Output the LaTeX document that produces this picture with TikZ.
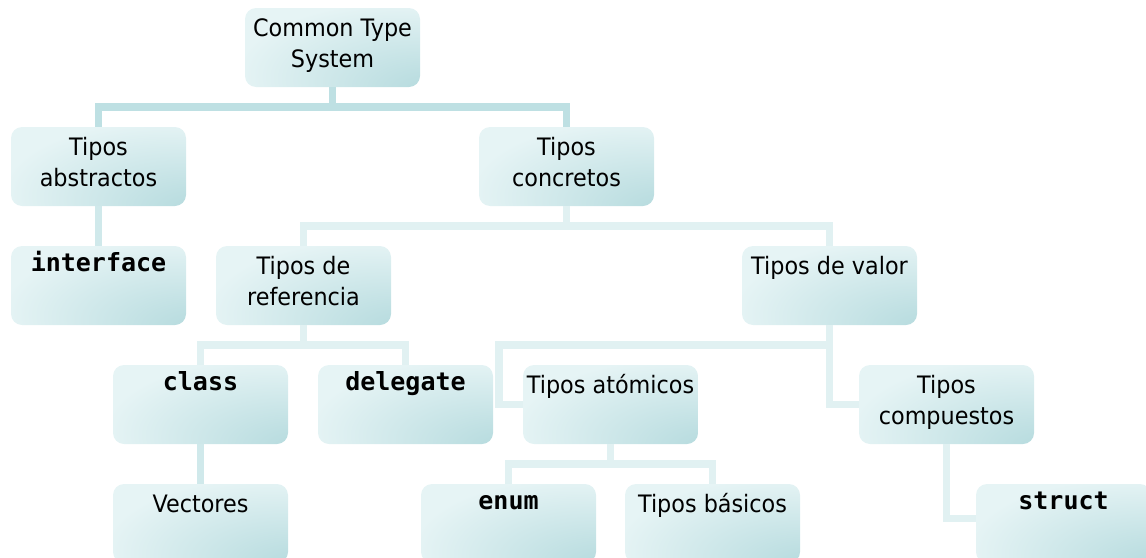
\documentclass[tikz,border=0pt]{standalone}
\usepackage{fontspec}
\setmainfont{DejaVu Sans}[FakeStretch=0.93]
\setmonofont{DejaVu Sans Mono}
\usetikzlibrary{positioning}

\definecolor{boxlight}{HTML}{E6F4F5}
\definecolor{boxdark}{HTML}{BADDE0}
\definecolor{linkdark}{HTML}{BEE0E3}
\definecolor{linkmid}{HTML}{D0E9EB}
\definecolor{linklight}{HTML}{E1F1F2}

% darker glow towards the bottom right corner of a box
\pgfdeclareradialshading{boxglow}{\pgfpoint{32bp}{-30bp}}{%
	color(0bp)=(boxdark); color(8bp)=(boxdark); color(45bp)=(boxlight); color(100bp)=(boxlight)}

% text sits at the top of each box
\newcommand{\boxtext}[1]{\parbox[c][79pt][t]{175pt}{\centering\fontsize{24}{31}\selectfont\rule{0pt}{28pt}#1}}
\newcommand{\boxcode}[1]{\parbox[c][79pt][t]{175pt}{\centering\fontsize{25}{31}\selectfont\ttfamily\bfseries\rule{0pt}{25pt}#1}}

\begin{document}
\begin{tikzpicture}[node distance = 119pt]
	\tikzset{BoxStyle/.style = {
			shape=rectangle, rounded corners=11pt,
			shade, shading=boxglow,
			inner sep=0pt, minimum width=175pt, minimum height=79pt
	}}
	\tikzset{RootLink/.style = {draw=linkdark, line width=7.5pt},
		MidLink/.style = {draw=linkmid, line width=7.5pt},
		LightLink/.style = {draw=linklight, line width=7.5pt},
		TreeLink/.style = {to path={(\tikztostart) -- ++(0,-20pt) -| (\tikztotarget)}},
		SideLink/.style = {to path={(\tikztostart) -- ++(0,-20pt) -| ([xshift=-24pt]\tikztotarget) -- (\tikztotarget)}},
		DownLink/.style = {to path={(\tikztostart) |- (\tikztotarget)}}
	}
	\useasboundingbox (0,0) rectangle (1146pt,-557pt);

	\node[BoxStyle] (cts) at (332.5pt,-47.5pt) {\boxtext{Common Type\\System}};
	\node[BoxStyle, below of=cts, xshift=-234pt] (abstractos) {\boxtext{Tipos\\abstractos}};
	\node[BoxStyle, below of=cts, xshift=234pt] (concretos) {\boxtext{Tipos\\concretos}};
	\node[BoxStyle, below of=abstractos] (interface) {\boxcode{interface}};
	\node[BoxStyle, below of=concretos, xshift=-263pt] (referencia) {\boxtext{Tipos de\\referencia}};
	\node[BoxStyle, below of=concretos, xshift=263pt] (valor) {\boxtext{Tipos de valor}};
	\node[BoxStyle, below of=referencia, xshift=-103pt] (class) {\boxcode{class}};
	\node[BoxStyle, below of=referencia, xshift=102pt] (delegate) {\boxcode{delegate}};
	\node[BoxStyle, below of=valor, xshift=-219pt] (atomicos) {\boxtext{Tipos at\'omicos}};
	\node[BoxStyle, below of=valor, xshift=117pt] (compuestos) {\boxtext{Tipos\\compuestos}};
	\node[BoxStyle, below of=class] (vectores) {\boxtext{Vectores}};
	\node[BoxStyle, below of=atomicos, xshift=-102pt] (enum) {\boxcode{enum}};
	\node[BoxStyle, below of=atomicos, xshift=102pt] (basicos) {\boxtext{Tipos b\'asicos}};
	\node[BoxStyle, below of=compuestos, xshift=117pt] (struct) {\boxcode{struct}};

	\path (cts.south) edge[RootLink, TreeLink] (abstractos.north);
	\path (cts.south) edge[RootLink, TreeLink] (concretos.north);
	\path (abstractos.south) edge[MidLink] (interface.north);
	\path (concretos.south) edge[LightLink, TreeLink] (referencia.north);
	\path (concretos.south) edge[LightLink, TreeLink] (valor.north);
	\path (referencia.south) edge[LightLink, TreeLink] (class.north);
	\path (referencia.south) edge[LightLink, TreeLink] (delegate.north);
	\path (valor.south) edge[LightLink, SideLink] (atomicos.west);
	\path (valor.south) edge[LightLink, DownLink] (compuestos.west);
	\path (class.south) edge[MidLink] (vectores.north);
	\path (atomicos.south) edge[LightLink, TreeLink] (enum.north);
	\path (atomicos.south) edge[LightLink, TreeLink] (basicos.north);
	\path (compuestos.south) edge[LightLink, DownLink] ([yshift=5pt]struct.west);
\end{tikzpicture}
\end{document}
